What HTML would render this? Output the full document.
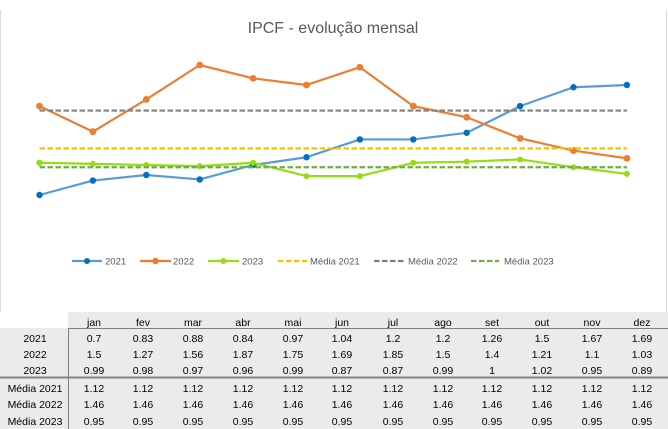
<!DOCTYPE html>
<html><head><meta charset="utf-8"><style>
html,body{margin:0;padding:0;background:#fff;}
svg{display:block;}
text{font-family:"Liberation Sans",sans-serif;}
</style></head><body>
<svg width="668" height="429" viewBox="0 0 668 429" xmlns="http://www.w3.org/2000/svg">
<rect x="0" y="0" width="668" height="429" fill="#fff"/>
<!-- chart borders -->
<line x1="0.5" y1="10" x2="0.5" y2="312" stroke="#d9d9d9" stroke-width="1"/>
<line x1="666.5" y1="10" x2="666.5" y2="312" stroke="#d9d9d9" stroke-width="1"/>
<!-- title -->
<text x="333" y="33" text-anchor="middle" font-size="16" fill="#595959">IPCF - evolução mensal</text>

<!-- series lines -->
<polyline fill="none" stroke="#5B9BD5" stroke-width="2.2" stroke-linejoin="round" points="39.5,195 92.9,180.56 146.3,175 199.7,179.45 253.1,165 306.5,157.23 359.9,139.45 413.3,139.45 466.7,132.78 520.1,106.12 573.5,87.23 626.9,85.01"/>
<polyline fill="none" stroke="#ED7D31" stroke-width="2.2" stroke-linejoin="round" points="39.5,106.12 92.9,131.67 146.3,99.45 199.7,65.01 253.1,78.34 306.5,85.01 359.9,67.23 413.3,106.12 466.7,117.23 520.1,138.34 573.5,150.56 626.9,158.34"/>
<polyline fill="none" stroke="#96DC14" stroke-width="2.2" stroke-linejoin="round" points="39.5,162.78 92.9,163.89 146.3,165 199.7,166.11 253.1,162.78 306.5,176.11 359.9,176.11 413.3,162.78 466.7,161.67 520.1,159.45 573.5,167.22 626.9,173.89"/>

<!-- markers -->
<g fill="#0070C0">
<circle cx="39.5" cy="195" r="3.2"/><circle cx="92.9" cy="180.56" r="3.2"/><circle cx="146.3" cy="175" r="3.2"/><circle cx="199.7" cy="179.45" r="3.2"/><circle cx="253.1" cy="165" r="3.2"/><circle cx="306.5" cy="157.23" r="3.2"/><circle cx="359.9" cy="139.45" r="3.2"/><circle cx="413.3" cy="139.45" r="3.2"/><circle cx="466.7" cy="132.78" r="3.2"/><circle cx="520.1" cy="106.12" r="3.2"/><circle cx="573.5" cy="87.23" r="3.2"/><circle cx="626.9" cy="85.01" r="3.2"/>
</g>
<g fill="#ED7D31">
<circle cx="39.5" cy="106.12" r="3.4"/><circle cx="92.9" cy="131.67" r="3.4"/><circle cx="146.3" cy="99.45" r="3.4"/><circle cx="199.7" cy="65.01" r="3.4"/><circle cx="253.1" cy="78.34" r="3.4"/><circle cx="306.5" cy="85.01" r="3.4"/><circle cx="359.9" cy="67.23" r="3.4"/><circle cx="413.3" cy="106.12" r="3.4"/><circle cx="466.7" cy="117.23" r="3.4"/><circle cx="520.1" cy="138.34" r="3.4"/><circle cx="573.5" cy="150.56" r="3.4"/><circle cx="626.9" cy="158.34" r="3.4"/>
</g>
<g fill="#96DC14">
<circle cx="39.5" cy="162.78" r="3.2"/><circle cx="92.9" cy="163.89" r="3"/><circle cx="146.3" cy="165" r="3"/><circle cx="199.7" cy="166.11" r="3"/><circle cx="253.1" cy="162.78" r="3"/><circle cx="306.5" cy="176.11" r="3"/><circle cx="359.9" cy="176.11" r="3"/><circle cx="413.3" cy="162.78" r="3"/><circle cx="466.7" cy="161.67" r="3"/><circle cx="520.1" cy="159.45" r="3"/><circle cx="573.5" cy="167.22" r="3"/><circle cx="626.9" cy="173.89" r="3"/>
</g>

<!-- average dashed lines -->
<line x1="39.5" y1="148.34" x2="626.9" y2="148.34" stroke="#FFC000" stroke-width="2.2" stroke-dasharray="5.5,2.5"/>
<line x1="39.5" y1="110.57" x2="626.9" y2="110.57" stroke="#7F7F7F" stroke-width="2.2" stroke-dasharray="5.5,2.5"/>
<line x1="39.5" y1="167.22" x2="626.9" y2="167.22" stroke="#70AD47" stroke-width="2.2" stroke-dasharray="5.5,2.5"/>

<!-- legend -->
<g font-size="9.5" fill="#595959">
<line x1="72" y1="261" x2="102" y2="261" stroke="#5B9BD5" stroke-width="2.2"/><circle cx="87" cy="261" r="3" fill="#0070C0"/>
<text x="105" y="264.5">2021</text>
<line x1="140" y1="261" x2="171" y2="261" stroke="#ED7D31" stroke-width="2.2"/><circle cx="155.5" cy="261" r="3.2" fill="#ED7D31"/>
<text x="173" y="264.5">2022</text>
<line x1="208" y1="261" x2="239" y2="261" stroke="#96DC14" stroke-width="2.2"/><circle cx="223.5" cy="261" r="3" fill="#96DC14"/>
<text x="242" y="264.5">2023</text>
<line x1="278" y1="261" x2="307" y2="261" stroke="#FFC000" stroke-width="2.2" stroke-dasharray="5.5,2.5"/>
<text x="310" y="264.5">Média 2021</text>
<line x1="374" y1="261" x2="404" y2="261" stroke="#7F7F7F" stroke-width="2.2" stroke-dasharray="5.5,2.5"/>
<text x="408" y="264.5">Média 2022</text>
<line x1="471" y1="261" x2="499" y2="261" stroke="#70AD47" stroke-width="2.2" stroke-dasharray="5.5,2.5"/>
<text x="504" y="264.5">Média 2023</text>
</g>

<!-- table background -->
<rect x="68" y="312" width="600" height="17" fill="#ebebeb"/>
<rect x="0" y="328" width="668" height="101" fill="#ebebeb"/>
<line x1="68" y1="328.5" x2="668" y2="328.5" stroke="#808080" stroke-width="1"/>
<line x1="68.5" y1="328" x2="68.5" y2="429" stroke="#808080" stroke-width="1"/>
<line x1="0" y1="377.5" x2="668" y2="377.5" stroke="#808080" stroke-width="2"/>

<g font-size="10.5" fill="#000" text-anchor="middle">
<!-- header -->
<text x="94" y="326">jan</text><text x="143" y="326">fev</text><text x="193" y="326">mar</text><text x="243" y="326">abr</text><text x="293" y="326">mai</text><text x="342" y="326">jun</text><text x="393" y="326">jul</text><text x="443" y="326">ago</text><text x="492" y="326">set</text><text x="542" y="326">out</text><text x="592" y="326">nov</text><text x="642" y="326">dez</text>
<!-- 2021 -->
<text x="35" y="342">2021</text>
<text x="94" y="342">0.7</text><text x="143" y="342">0.83</text><text x="193" y="342">0.88</text><text x="243" y="342">0.84</text><text x="293" y="342">0.97</text><text x="342" y="342">1.04</text><text x="393" y="342">1.2</text><text x="443" y="342">1.2</text><text x="492" y="342">1.26</text><text x="542" y="342">1.5</text><text x="592" y="342">1.67</text><text x="642" y="342">1.69</text>
<!-- 2022 -->
<text x="35" y="358">2022</text>
<text x="94" y="358">1.5</text><text x="143" y="358">1.27</text><text x="193" y="358">1.56</text><text x="243" y="358">1.87</text><text x="293" y="358">1.75</text><text x="342" y="358">1.69</text><text x="393" y="358">1.85</text><text x="443" y="358">1.5</text><text x="492" y="358">1.4</text><text x="542" y="358">1.21</text><text x="592" y="358">1.1</text><text x="642" y="358">1.03</text>
<!-- 2023 -->
<text x="35" y="374">2023</text>
<text x="94" y="374">0.99</text><text x="143" y="374">0.98</text><text x="193" y="374">0.97</text><text x="243" y="374">0.96</text><text x="293" y="374">0.99</text><text x="342" y="374">0.87</text><text x="393" y="374">0.87</text><text x="443" y="374">0.99</text><text x="492" y="374">1</text><text x="542" y="374">1.02</text><text x="592" y="374">0.95</text><text x="642" y="374">0.89</text>
<!-- Media 2021 -->
<text x="35" y="392">Média 2021</text>
<text x="94" y="392">1.12</text><text x="143" y="392">1.12</text><text x="193" y="392">1.12</text><text x="243" y="392">1.12</text><text x="293" y="392">1.12</text><text x="342" y="392">1.12</text><text x="393" y="392">1.12</text><text x="443" y="392">1.12</text><text x="492" y="392">1.12</text><text x="542" y="392">1.12</text><text x="592" y="392">1.12</text><text x="642" y="392">1.12</text>
<!-- Media 2022 -->
<text x="35" y="408">Média 2022</text>
<text x="94" y="408">1.46</text><text x="143" y="408">1.46</text><text x="193" y="408">1.46</text><text x="243" y="408">1.46</text><text x="293" y="408">1.46</text><text x="342" y="408">1.46</text><text x="393" y="408">1.46</text><text x="443" y="408">1.46</text><text x="492" y="408">1.46</text><text x="542" y="408">1.46</text><text x="592" y="408">1.46</text><text x="642" y="408">1.46</text>
<!-- Media 2023 -->
<text x="35" y="425">Média 2023</text>
<text x="94" y="425">0.95</text><text x="143" y="425">0.95</text><text x="193" y="425">0.95</text><text x="243" y="425">0.95</text><text x="293" y="425">0.95</text><text x="342" y="425">0.95</text><text x="393" y="425">0.95</text><text x="443" y="425">0.95</text><text x="492" y="425">0.95</text><text x="542" y="425">0.95</text><text x="592" y="425">0.95</text><text x="642" y="425">0.95</text>
</g>
</svg>
</body></html>
